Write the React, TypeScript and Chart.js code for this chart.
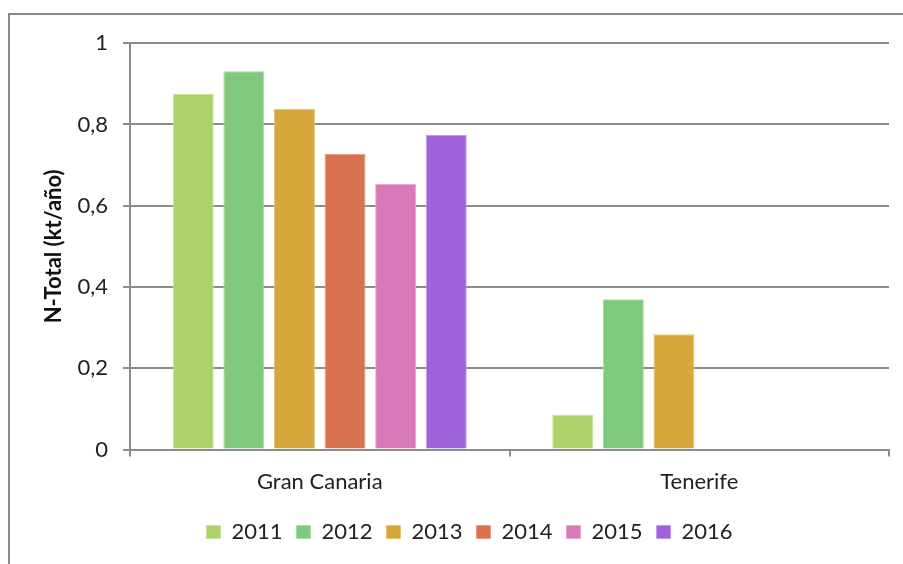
import React, { useEffect, useRef } from "react";
import { Chart, registerables } from "chart.js";

Chart.register(...registerables);

const categories = ["Gran Canaria", "Tenerife"];
const years = ["2011", "2012", "2013", "2014", "2015", "2016"];
const v2011 = [0.875, 0.086];
const v2012 = [0.931, 0.37];
const v2013 = [0.838, 0.284];
const v2014 = [0.728, null];
const v2015 = [0.654, null];
const v2016 = [0.775, null];
const seriesValues = [v2011, v2012, v2013, v2014, v2015, v2016];
const colors = ["#AED26A", "#7EC97B", "#D6A83C", "#D97050", "#D87AB8", "#A062DA"];
const borderColors = ["#C9E39A", "#A7DCA5", "#E6C277", "#E89A82", "#E8A6D2", "#C197EA"];
const yTicks = [0, 0.2, 0.4, 0.6, 0.8, 1];

const FONT = "Lato";
const GRID = "#8c8c8c";

const legendShift = {
  id: "legendShift",
  afterLayout(chart: any) {
    if (chart.legend) {
      chart.legend.left += 20;
      chart.legend.right += 20;
    }
  },
};

export default function App() {
  const ref = useRef<HTMLCanvasElement | null>(null);
  useEffect(() => {
    if (!ref.current) return;
    const chart = new Chart(ref.current, {
      type: "bar",
      data: {
        labels: categories,
        datasets: years.map((y, i) => ({
          label: y,
          data: seriesValues[i],
          backgroundColor: colors[i],
          borderColor: borderColors[i],
          borderWidth: 1,
          categoryPercentage: 0.8,
          barPercentage: 0.81,
        })),
      },
      plugins: [legendShift],
      options: {
        animation: false,
        responsive: false,
        maintainAspectRatio: false,
        layout: { padding: { top: 22, right: 14, left: 0, bottom: 11 } },
        plugins: {
          tooltip: { enabled: false },
          legend: {
            position: "bottom",
            labels: {
              boxWidth: 14,
              boxHeight: 13,
              padding: 14,
              color: "#222",
              font: { family: FONT, size: 22 },
            },
          },
        },
        scales: {
          x: {
            grid: {
              drawOnChartArea: false,
              drawTicks: true,
              tickLength: 7,
              color: GRID,
              lineWidth: 2,
            },
            border: { display: true, color: GRID, width: 2 },
            ticks: {
              color: "#222",
              font: { family: FONT, size: 22 },
              padding: 12,
            },
          },
          y: {
            min: 0,
            max: 1,
            afterBuildTicks: (s: any) => {
              s.ticks = yTicks.map((v) => ({ value: v }));
            },
            afterFit: (s: any) => {
              s.width = 120;
            },
            grid: {
              color: GRID,
              lineWidth: 2,
              drawTicks: true,
              tickLength: 7,
            },
            border: { display: true, color: GRID, width: 2 },
            ticks: {
              color: "#222",
              font: { family: FONT, size: 22 },
              padding: 15,
              callback: (v: any) => String(Math.round(Number(v) * 10) / 10).replace(".", ","),
            },
            title: {
              display: true,
              text: "N-Total (kt/año)",
              color: "#111",
              font: { family: FONT, size: 22, weight: "bold" },
              padding: { top: 31, bottom: 0 },
            },
          },
        },
      },
    });
    return () => chart.destroy();
  }, []);
  return (
    <div
      style={{
        position: "absolute",
        left: 8,
        top: 13,
        width: 895,
        height: 551,
        boxSizing: "border-box",
        borderTop: "2px solid #8a8a8a",
        borderLeft: "2px solid #8a8a8a",
        background: "#fff",
      }}
    >
      <canvas ref={ref} width={893} height={549} style={{ display: "block" }} />
    </div>
  );
}
